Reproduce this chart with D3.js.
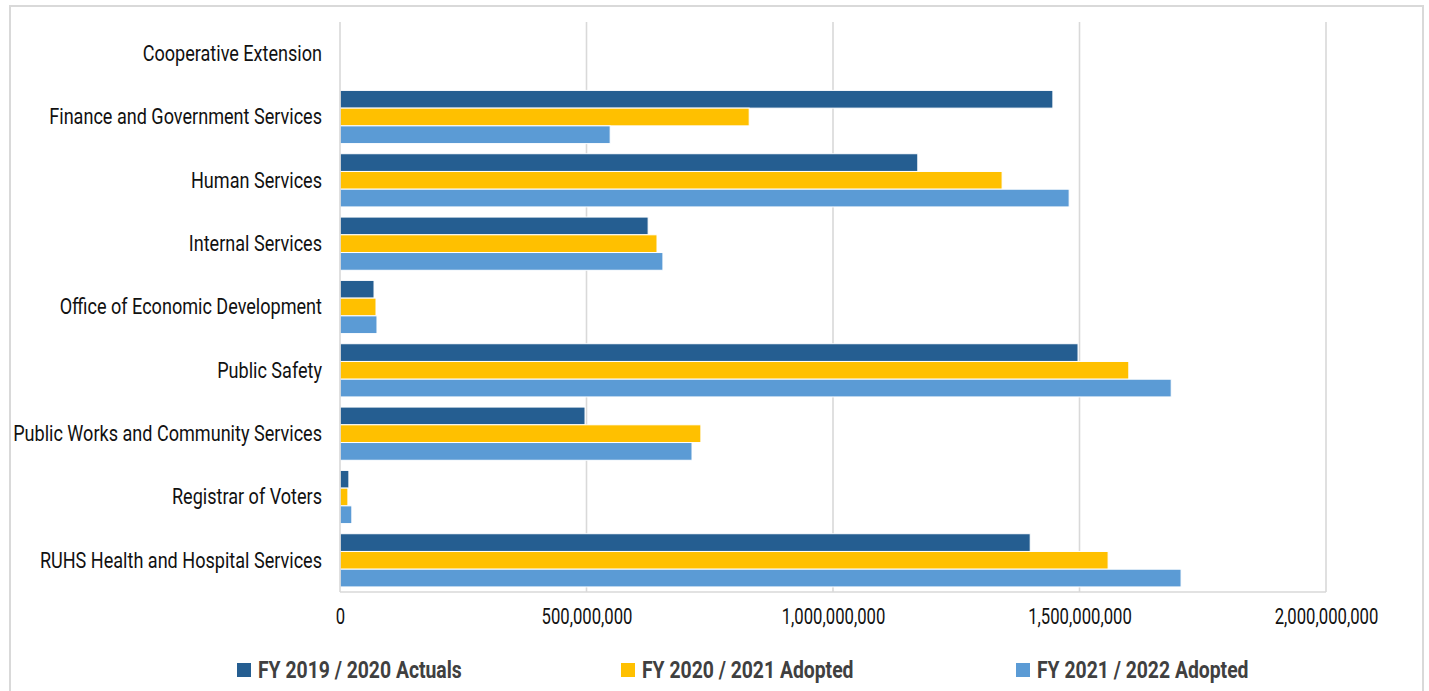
<!DOCTYPE html>
<html><head><meta charset="utf-8">
<script src="https://cdn.jsdelivr.net/npm/d3@7"></script>
<style>
html,body{margin:0;padding:0;background:#fff;}
svg{display:block;}
text{font-family:Roboto,"Liberation Sans",sans-serif;}
</style></head>
<body>
<svg id="c" width="1429" height="691"></svg>
<script>
const categories = ["Cooperative Extension","Finance and Government Services","Human Services","Internal Services","Office of Economic Development","Public Safety","Public Works and Community Services","Registrar of Voters","RUHS Health and Hospital Services"];
const seriesNames = ["FY 2019 / 2020 Actuals","FY 2020 / 2021 Adopted","FY 2021 / 2022 Adopted"];
const actuals2020 = [1200000,1446000000,1172000000,625000000,69000000,1497000000,497000000,18000000,1400000000];
const adopted2021 = [1300000,830000000,1343000000,643000000,73000000,1600000000,732000000,16000000,1558000000];
const adopted2022 = [1400000,548000000,1479000000,655000000,75000000,1686000000,714000000,24000000,1706000000];
const xTicks = [0,500000000,1000000000,1500000000,2000000000];
const colors = ["#255E91","#FFC000","#5B9BD5"];
const seriesValues = [actuals2020, adopted2021, adopted2022];

const svg = d3.select("#c");
// outer frame
svg.append("rect").attr("x",10).attr("y",6).attr("width",1413).attr("height",700)
  .attr("fill","#fff").attr("stroke","#d9d9d9").attr("stroke-width",2);

const m = {left:340, right:1326, top:22, bottom:592};
const x = d3.scaleLinear().domain([0,2000000000]).range([m.left,m.right]);
const y = d3.scaleBand().domain(categories).range([m.top,m.bottom]).paddingInner(0.16).paddingOuter(0.08);
const ys = d3.scaleBand().domain(d3.range(3)).range([0,y.bandwidth()]);

// gridlines
svg.append("g").selectAll("line").data(xTicks.slice(1)).join("line")
  .attr("x1",d=>x(d)).attr("x2",d=>x(d)).attr("y1",m.top).attr("y2",m.bottom)
  .attr("stroke","#d9d9d9").attr("stroke-width",1.6);

// bars
const g = svg.append("g");
categories.forEach((c,i)=>{
  seriesValues.forEach((vals,s)=>{
    g.append("rect")
      .attr("x",x(0)).attr("y",y(c)+ys(s))
      .attr("width",Math.max(0,x(vals[i])-x(0))).attr("height",ys.bandwidth())
      .attr("fill",colors[s]).attr("stroke","#fff").attr("stroke-width",1);
  });
});

// axis lines
svg.append("line").attr("x1",x(0)).attr("x2",x(0)).attr("y1",m.top).attr("y2",m.bottom)
  .attr("stroke","#d9d9d9").attr("stroke-width",1.6);
svg.append("line").attr("x1",x(0)).attr("x2",m.right).attr("y1",m.bottom).attr("y2",m.bottom)
  .attr("stroke","#d9d9d9").attr("stroke-width",1.6);

// helper: horizontally condense texts so that a reference string reaches a target width
function condenseFactor(sample, size, weight, target){
  const t = svg.append("text").attr("font-size",size).attr("font-weight",weight).text(sample);
  const w = t.node().getComputedTextLength();
  t.remove();
  return target / w;
}

// category labels
const catSize = 22.5;
const kc = condenseFactor("Finance and Government Services", catSize, "normal", 273);
const pad = 18;
const yAxis = d3.axisLeft(y).tickSize(0).tickPadding(pad);
const ya = svg.append("g").attr("transform",`translate(${m.left},0)`).call(yAxis);
ya.select(".domain").remove();
ya.selectAll("text").attr("font-size",catSize).attr("fill","#111")
  .attr("font-family",null)
  .attr("x",-pad/kc).attr("transform",`scale(${kc},1)`);

// x tick labels
const tickSize = 22;
const kt = condenseFactor("500,000,000", tickSize, "normal", 91);
const xAxis = d3.axisBottom(x).tickValues(xTicks).tickSize(0).tickPadding(16).tickFormat(d3.format(","));
const xa = svg.append("g").attr("transform",`translate(0,${m.bottom})`).call(xAxis);
xa.select(".domain").remove();
xa.selectAll("text").attr("font-size",tickSize).attr("fill","#111")
  .attr("font-family",null)
  .attr("transform",`scale(${kt},1)`);
xa.selectAll(".tick").each(function(){
  // keep the label centered on its tick after condensing
  d3.select(this).select("text").attr("x",0);
});

// legend
const legSize = 23.5;
const kl = condenseFactor("FY 2019 / 2020 Actuals", legSize, "bold", 204);
const legX = [237, 621, 1016];
const leg = svg.append("g");
seriesNames.forEach((n,i)=>{
  leg.append("rect").attr("x",legX[i]).attr("y",663).attr("width",14).attr("height",14).attr("fill",colors[i]);
  leg.append("text").attr("transform",`translate(${legX[i]+21},670) scale(${kl},1)`).attr("dy","0.36em")
    .attr("font-size",legSize).attr("font-weight","bold").attr("fill","#404040").text(n);
});
</script>
</body></html>
